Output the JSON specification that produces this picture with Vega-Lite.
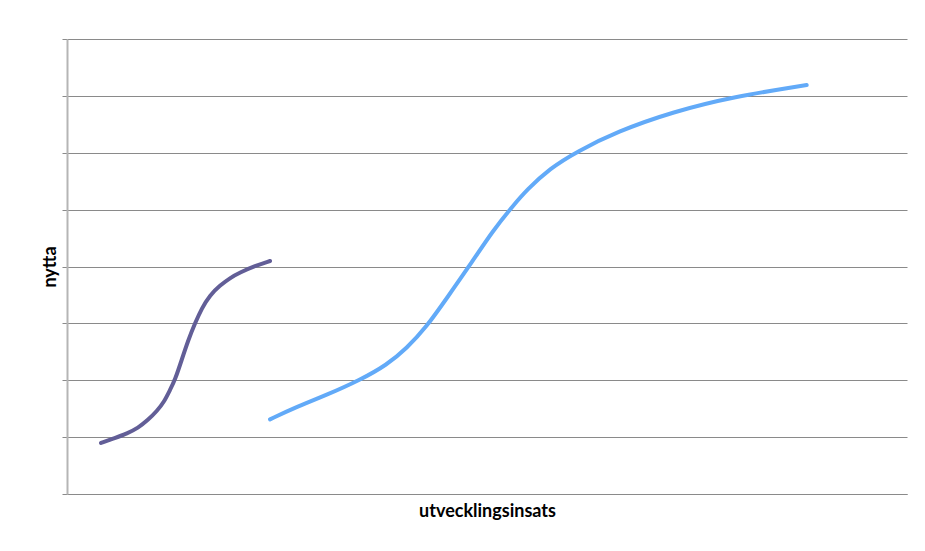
{
  "$schema": "https://vega.github.io/schema/vega-lite/v6.json",
  "width": 840,
  "height": 455,
  "autosize": "none",
  "padding": {"left": 67, "top": 39, "right": 18, "bottom": 57},
  "background": "white",
  "config": {"view": {"stroke": null}},
  "data": {
    "values": [
      {"serie": "A", "x": 0.405, "y": 0.897},
      {"serie": "A", "x": 0.571, "y": 0.985},
      {"serie": "A", "x": 0.714, "y": 1.064},
      {"serie": "A", "x": 0.845, "y": 1.16},
      {"serie": "A", "x": 0.964, "y": 1.301},
      {"serie": "A", "x": 1.071, "y": 1.459},
      {"serie": "A", "x": 1.155, "y": 1.617},
      {"serie": "A", "x": 1.226, "y": 1.829},
      {"serie": "A", "x": 1.286, "y": 2.004},
      {"serie": "A", "x": 1.365, "y": 2.356},
      {"serie": "A", "x": 1.444, "y": 2.708},
      {"serie": "A", "x": 1.524, "y": 3.001},
      {"serie": "A", "x": 1.604, "y": 3.265},
      {"serie": "A", "x": 1.702, "y": 3.499},
      {"serie": "A", "x": 1.821, "y": 3.666},
      {"serie": "A", "x": 1.94, "y": 3.798},
      {"serie": "A", "x": 2.06, "y": 3.895},
      {"serie": "A", "x": 2.238, "y": 4.009},
      {"serie": "A", "x": 2.417, "y": 4.097},
      {"serie": "B", "x": 2.417, "y": 1.313},
      {"serie": "B", "x": 2.694, "y": 1.507},
      {"serie": "B", "x": 3.092, "y": 1.741},
      {"serie": "B", "x": 3.488, "y": 2.004},
      {"serie": "B", "x": 3.806, "y": 2.268},
      {"serie": "B", "x": 4.044, "y": 2.562},
      {"serie": "B", "x": 4.282, "y": 2.942},
      {"serie": "B", "x": 4.52, "y": 3.441},
      {"serie": "B", "x": 4.798, "y": 4.026},
      {"serie": "B", "x": 5.075, "y": 4.642},
      {"serie": "B", "x": 5.313, "y": 5.073},
      {"serie": "B", "x": 5.473, "y": 5.345},
      {"serie": "B", "x": 5.75, "y": 5.727},
      {"serie": "B", "x": 6.068, "y": 6.018},
      {"serie": "B", "x": 6.544, "y": 6.37},
      {"serie": "B", "x": 7.218, "y": 6.722},
      {"serie": "B", "x": 7.932, "y": 6.985},
      {"serie": "B", "x": 8.806, "y": 7.191}
    ]
  },
  "mark": {"type": "line", "interpolate": "basis", "strokeWidth": 4, "strokeCap": "round"},
  "encoding": {
    "x": {
      "field": "x", "type": "quantitative",
      "scale": {"domain": [0, 10], "nice": false, "zero": false},
      "axis": {
        "title": "utvecklingsinsats", "labels": false, "ticks": false, "grid": false,
        "domainColor": "#8a8a8a", "domainWidth": 1,
        "titleFont": "Lato", "titleFontSize": 18, "titleFontWeight": "bold", "titleColor": "#000000",
        "titlePadding": 8
      }
    },
    "y": {
      "field": "y", "type": "quantitative",
      "scale": {"domain": [0, 8], "nice": false, "zero": false},
      "axis": {
        "title": "nytta", "labels": false, "values": [0, 1, 2, 3, 4, 5, 6, 7, 8],
        "ticks": true, "tickSize": 5, "tickColor": "#8a8a8a", "tickWidth": 1,
        "grid": true, "gridColor": "#8a8a8a", "gridWidth": 1, "gridOpacity": 1,
        "domainColor": "#b5b5b5", "domainWidth": 2,
        "titleFont": "Lato", "titleFontSize": 18, "titleFontWeight": "bold", "titleColor": "#000000",
        "titlePadding": 2
      }
    },
    "color": {
      "field": "serie", "type": "nominal",
      "scale": {"domain": ["A", "B"], "range": ["#625E97", "#62AAF8"]},
      "legend": null
    },
    "detail": {"field": "serie"}
  }
}
